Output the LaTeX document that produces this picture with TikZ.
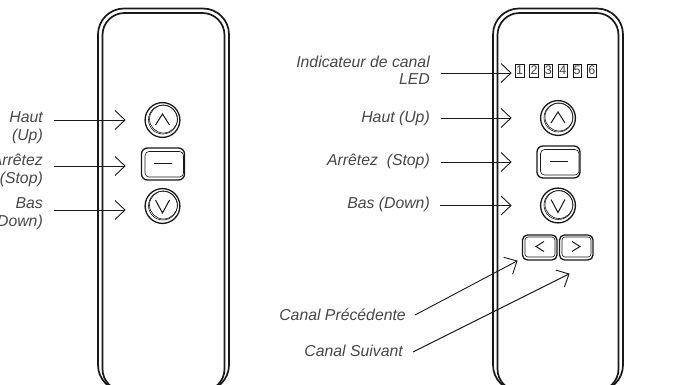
\documentclass[tikz,border=0pt]{standalone}
\usepackage{fontspec}
\setmainfont{Liberation Sans}
\definecolor{ink}{gray}{0.1}
\tikzset{
  x=1pt,y=-1pt,
  shell/.style={draw=ink,line width=1.7pt,rounded corners=26pt},
  shellin/.style={draw=ink,line width=1.7pt,rounded corners=22pt},
  btn/.style={draw=ink,line width=1.3pt},
  btnthin/.style={draw=ink,line width=.6pt},
  glyph/.style={draw=ink,line width=1pt},
  lead/.style={draw=ink,line width=.9pt},
  headline/.style={draw=ink,line width=.9pt},
  lbl/.style={inner sep=0pt,font=\itshape\fontsize{15.8}{19}\selectfont,text=black!72,align=right,anchor=east},
  led/.style={draw=ink,line width=.8pt,minimum width=8.5pt,minimum height=13pt,inner sep=0pt,font=\fontsize{12.5}{12.5}\selectfont,text=black!75},
}
\newcommand{\openhead}[2]{% tip, angle of the shaft direction
  \draw[headline,shift={(#1)},rotate=#2] (-10,-9.5) -- (0,0) -- (-10,9.5);}
\newcommand{\roundbtn}[1]{%
  \draw[btn] (#1) circle[radius=17.4];
  \draw[btnthin,shift={(#1)}] (0.4,-0.4) circle[radius=14.4];
  \draw[btnthin,shift={(#1)}] (1,-1) circle[radius=14];}
\newcommand{\stopbtn}[1]{%
  \draw[btn,rounded corners=6pt,shift={(#1)}] (-21.5,-16) rectangle (21.5,16);
  \draw[btnthin,rounded corners=4pt,shift={(#1)}] (-18,-12.5) rectangle (20.5,13);
  \draw[glyph,shift={(#1)}] (-9,-0.5) -- (9,-0.5);}
\begin{document}
\begin{tikzpicture}
\useasboundingbox (0,0) rectangle (678,385);
\clip (0,0) rectangle (678,385);
% remotes
\draw[shell] (98,391) -- (98,8.5) -- (229,8.5) -- (229,391) -- cycle;
\draw[shellin] (102.5,391) -- (102.5,13) -- (224.5,13) -- (224.5,391) -- cycle;
\draw[shell] (493,391) -- (493,8.5) -- (623,8.5) -- (623,391) -- cycle;
\draw[shellin] (497.5,391) -- (497.5,13) -- (618.5,13) -- (618.5,391) -- cycle;
% left buttons
\coordinate (lu) at (162.5,120);
\coordinate (ls) at (163,164);
\coordinate (ld) at (162.5,206);
\roundbtn{lu}\roundbtn{ld}\stopbtn{ls}
\draw[glyph,shift={(lu)}] (-7,5) -- (0,-6) -- (7,5);
\draw[glyph,shift={(ld)}] (-7,-6) -- (0,7) -- (7,-6);
% left labels
\node[lbl] (lh1) at (43,117) {Haut};
\node[lbl] (lh2) at (43,136) {(Up)};
\node[lbl] (ls1) at (43,160) {Arrêtez};
\node[lbl] (ls2) at (43,179) {(Stop)};
\node[lbl] (lb1) at (43,203) {Bas};
\node[lbl] (lb2) at (43,222) {(Down)};
% left arrows
\coordinate (la1) at (54,120); \coordinate (la1t) at (125,120);
\coordinate (la2) at (54,166); \coordinate (la2t) at (125,166);
\coordinate (la3) at (54,210); \coordinate (la3t) at (125,210);
\draw[lead] (la1) -- (la1t); \openhead{la1t}{0}
\draw[lead] (la2) -- (la2t); \openhead{la2t}{0}
\draw[lead] (la3) -- (la3t); \openhead{la3t}{0}
% right buttons
\coordinate (ru) at (558,118);
\coordinate (rs) at (558.5,162);
\coordinate (rd) at (558,205.5);
\roundbtn{ru}\roundbtn{rd}\stopbtn{rs}
\draw[glyph,shift={(ru)}] (-7,5) -- (0,-6) -- (7,5);
\draw[glyph,shift={(rd)}] (-7,-6) -- (0,7) -- (7,-6);
% channel buttons
\draw[btn,rounded corners=5pt] (522.5,235) rectangle (557,260);
\draw[btn,rounded corners=5pt] (559.5,235) rectangle (593,260);
\draw[btnthin,rounded corners=3pt] (525,237) rectangle (555,257);
\draw[btnthin,rounded corners=3pt] (562,237) rectangle (591,257);
\draw[glyph] (544,241.5) -- (536,246.5) -- (544,251.5);
\draw[glyph] (572,241.5) -- (580,246.5) -- (572,251.5);
% LEDs
\foreach \n/\x in {1/519.7,2/534,3/548.3,4/562.8,5/577.2,6/591.8}
  \node[led] (led\n) at (\x,70.5) {\n};
% right labels
\node[lbl] (r1) at (430,62) {Indicateur de canal};
\node[lbl] (r1b) at (430,79) {LED};
\node[lbl] (r2) at (430,118) {Haut (Up)};
\node[lbl] (r3) at (430,161) {Arrêtez\ \ (Stop)};
\node[lbl] (r4) at (430,204) {Bas (Down)};
\node[lbl] (r5) at (406,315) {Canal Précédente};
\node[lbl] (r6) at (403,351) {Canal Suivant};
% right arrows
\coordinate (ra1) at (441,73); \coordinate (ra1t) at (511,73);
\coordinate (ra2) at (441,118); \coordinate (ra2t) at (511,118);
\coordinate (ra3) at (441,162); \coordinate (ra3t) at (511,162);
\coordinate (ra4) at (440,205.5); \coordinate (ra4t) at (511,205.5);
\coordinate (ra5) at (415,315); \coordinate (ra5t) at (517,261);
\coordinate (ra6) at (413,352); \coordinate (ra6t) at (569,274);
\draw[lead] (ra1) -- (ra1t); \openhead{ra1t}{0}
\draw[lead] (ra2) -- (ra2t); \openhead{ra2t}{0}
\draw[lead] (ra3) -- (ra3t); \openhead{ra3t}{0}
\draw[lead] (ra4) -- (ra4t); \openhead{ra4t}{0}
\draw[lead] (ra5) -- (ra5t); \openhead{ra5t}{28}
\draw[lead] (ra6) -- (ra6t); \openhead{ra6t}{27}
\end{tikzpicture}
\end{document}
